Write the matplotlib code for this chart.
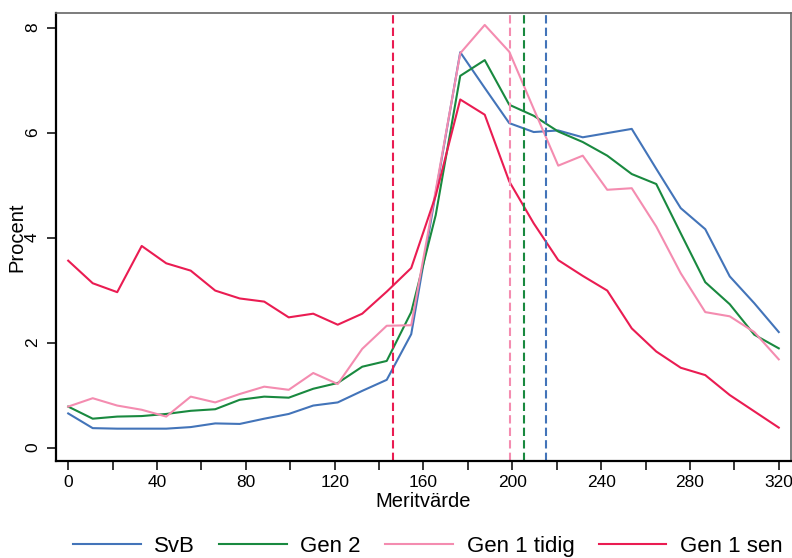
import numpy as np
import matplotlib
matplotlib.use("Agg")
import matplotlib.pyplot as plt
from matplotlib.ticker import MultipleLocator

plt.rcParams['font.family'] = ['Liberation Sans', 'DejaVu Sans']

# --- data: share of students (%) per merit value bin ---
meritvarde = np.linspace(0, 320, 30)

svb = [0.65, 0.37, 0.36, 0.36, 0.36, 0.39, 0.46, 0.45, 0.55, 0.64,
       0.80, 0.86, 1.08, 1.29, 2.16, 4.85, 7.53, 6.85, 6.18, 6.01,
       6.04, 5.91, 5.99, 6.07, 5.31, 4.56, 4.16, 3.26, 2.75, 2.20]
gen2 = [0.78, 0.55, 0.59, 0.60, 0.64, 0.70, 0.73, 0.91, 0.97, 0.95,
        1.12, 1.23, 1.54, 1.65, 2.58, 4.43, 7.08, 7.38, 6.53, 6.32,
        6.02, 5.82, 5.56, 5.21, 5.02, 4.08, 3.15, 2.73, 2.15, 1.89]
gen1_tidig = [0.78, 0.94, 0.80, 0.72, 0.59, 0.97, 0.86, 1.02, 1.16, 1.10,
              1.42, 1.21, 1.88, 2.32, 2.33, 4.90, 7.51, 8.05, 7.54, 6.45,
              5.37, 5.56, 4.91, 4.94, 4.21, 3.32, 2.58, 2.50, 2.20, 1.68]
gen1_sen = [3.56, 3.13, 2.96, 3.84, 3.51, 3.37, 2.99, 2.84, 2.78, 2.48,
            2.55, 2.34, 2.55, 2.97, 3.42, 4.80, 6.63, 6.34, 5.07, 4.27,
            3.57, 3.27, 2.99, 2.27, 1.83, 1.52, 1.38, 1.00, 0.69, 0.38]

# group averages (vertical dashed lines)
medel = {'svb': 215.0, 'gen2': 205.1, 'gen1_tidig': 199.0, 'gen1_sen': 146.1}

colors = {'svb': '#4374b9', 'gen2': '#19893f',
          'gen1_tidig': '#f48cb0', 'gen1_sen': '#ea1c52'}

series = [('svb', 'SvB', svb), ('gen2', 'Gen 2', gen2),
          ('gen1_tidig', 'Gen 1 tidig', gen1_tidig),
          ('gen1_sen', 'Gen 1 sen', gen1_sen)]

fig = plt.figure(figsize=(7.92, 5.58), dpi=100)
ax = fig.add_axes([0.0707, 0.1744, 0.928, 0.8016])

for key, label, vals in series:
    ax.plot(meritvarde, vals, color=colors[key], lw=1.5, label=label)

for key in ['gen1_sen', 'gen1_tidig', 'gen2', 'svb']:
    ax.axvline(medel[key], color=colors[key], lw=1.5, dashes=(4, 2))

ax.set_xlim(-5.5, 325.5)
ax.set_ylim(-0.25, 8.27)
ax.xaxis.set_major_locator(MultipleLocator(40))
ax.xaxis.set_minor_locator(MultipleLocator(20))
ax.set_yticks([0, 2, 4, 6, 8])

ax.tick_params(axis='both', which='both', length=6.5, width=1.1,
               color='black', labelsize=12.5)
ax.tick_params(axis='x', pad=3.5)
ax.tick_params(axis='y', pad=5)
for lab in ax.get_yticklabels():
    lab.set_rotation(90)
    lab.set_va('center')

ax.spines['left'].set_linewidth(1.6)
ax.spines['bottom'].set_linewidth(1.6)
ax.spines['top'].set_color('#666666')
ax.spines['right'].set_color('#666666')
ax.spines['top'].set_linewidth(1.2)
ax.spines['right'].set_linewidth(1.2)

ax.set_xlabel('Meritvärde', fontsize=14.5, labelpad=2)
ax.set_ylabel('Procent', fontsize=14.5, labelpad=-1)

fig.legend(loc='center', bbox_to_anchor=(0.54, 0.0215), ncol=4,
           frameon=False, fontsize=16, handlelength=3.05,
           handletextpad=0.6, columnspacing=1.1)

plt.savefig('out.png', dpi=100)
